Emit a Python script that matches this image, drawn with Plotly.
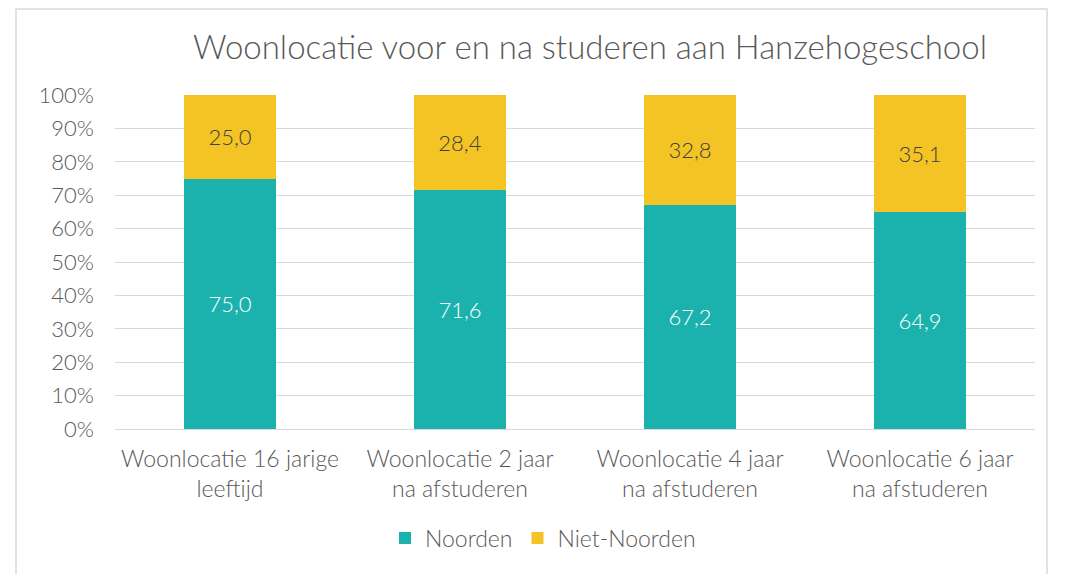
import plotly.graph_objects as go

categories = [
    "Woonlocatie 16 jarige<br>leeftijd",
    "Woonlocatie 2 jaar<br>na afstuderen",
    "Woonlocatie 4 jaar<br>na afstuderen",
    "Woonlocatie 6 jaar<br>na afstuderen",
]
noorden = [75.0, 71.6, 67.2, 64.9]
niet_noorden = [25.0, 28.4, 32.8, 35.1]
tick_vals = [0, 10, 20, 30, 40, 50, 60, 70, 80, 90, 100]
tick_text = [f"{v}%" for v in tick_vals]

def fmt(v):
    return f"{v:.1f}".replace(".", ",")

FONT = "Lato"
GRAY = "#595959"
W8 = 8  # page body offset

# target pixel positions in the page
PL, PR, PT, PB = 115, 1035, 95, 429

fig = go.Figure()
fig.add_trace(go.Bar(
    name="Noorden", x=categories, y=noorden,
    marker=dict(color="#1BB2AE", line=dict(width=0)),
    text=[fmt(v) for v in noorden], textposition="inside",
    insidetextanchor="middle",
    textfont=dict(color="white", size=22, family=FONT, weight=300),
))
fig.add_trace(go.Bar(
    name="Niet-Noorden", x=categories, y=niet_noorden,
    marker=dict(color="#F4C324", line=dict(width=0)),
    text=[fmt(v) for v in niet_noorden], textposition="inside",
    insidetextanchor="middle",
    textfont=dict(color="#404040", size=22, family=FONT, weight=300),
))

width, height = 1069 - W8, 574 - W8
fig.update_layout(
    width=width, height=height,
    barmode="stack", bargap=0.6,
    margin=dict(l=PL - W8, r=width - (PR - W8), t=PT - W8, b=height - (PB - W8)),
    paper_bgcolor="white", plot_bgcolor="white",
    font=dict(family=FONT, color=GRAY, size=22, weight=300),
    title=dict(text="Woonlocatie voor en na studeren aan Hanzehogeschool",
               x=(590 - PL) / (PR - PL), xref="paper", xanchor="center",
               y=1 - (47 - W8) / height, yref="container", yanchor="middle",
               font=dict(size=33, color=GRAY, family=FONT, weight=300)),
    legend=dict(orientation="h", x=(543 - PL) / (PR - PL), xanchor="center",
                y=(PB - 538) / (PB - PT), yanchor="middle",
                font=dict(size=23, color=GRAY, family=FONT, weight=300),
                traceorder="normal"),
    showlegend=True,
)
fig.update_xaxes(showline=True, linecolor="#d9d9d9", linewidth=1,
                 ticks="", ticklabelstandoff=9,
                 tickfont=dict(size=23, color=GRAY, family=FONT, weight=300))
fig.update_yaxes(range=[0, 100], tickvals=tick_vals, ticktext=tick_text,
                 showgrid=True, gridcolor="#d9d9d9", gridwidth=1,
                 zeroline=False, ticks="", ticklabelstandoff=20,
                 tickfont=dict(size=22, color=GRAY, family=FONT, weight=300))

# chart frame
fig.add_shape(type="rect", xref="paper", yref="paper",
              x0=(16 - PL) / (PR - PL), x1=(1047 - PL) / (PR - PL),
              y0=(PB - 600) / (PB - PT), y1=(PB - 9) / (PB - PT),
              line=dict(color="#d9d9d9", width=1.5), layer="below")

fig.write_html("out.html")
